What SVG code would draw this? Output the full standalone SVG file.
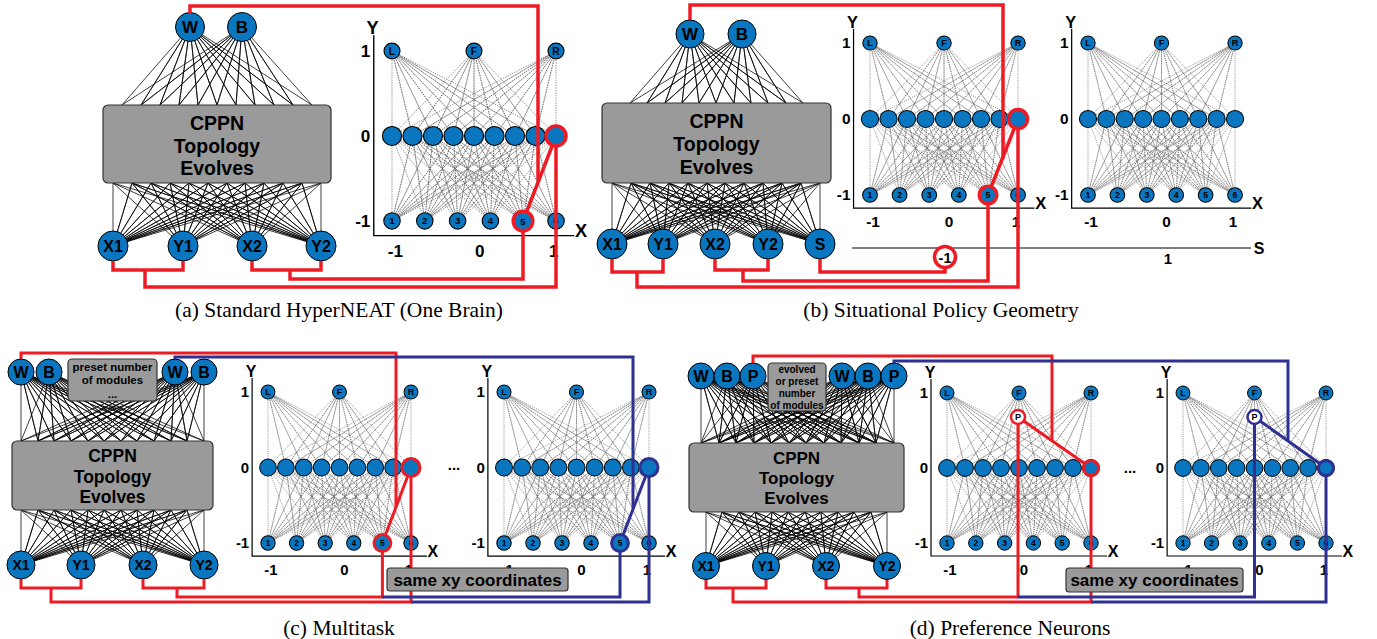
<svg xmlns="http://www.w3.org/2000/svg" xmlns:xlink="http://www.w3.org/1999/xlink" width="1377" height="639" viewBox="0 0 1377 639">
<style>
.n{fill:#0a76bf;stroke:#000;stroke-width:1}
.t{font-family:"Liberation Sans",Arial,sans-serif;font-weight:bold;text-anchor:middle;fill:#000}
.cap{font-family:"Liberation Serif","Times New Roman",serif;font-size:21.5px;text-anchor:middle;fill:#000}
.fan{stroke:#000;stroke-width:0.75;fill:none}
.dot{stroke:#6a6a6a;stroke-width:0.65;stroke-dasharray:1.2 1;fill:none}
.box{fill:#9a9a9a;stroke:#333;stroke-width:1.2}
.ax{stroke:#000;stroke-width:1.2;fill:none}
.red{stroke:#ed1c24;stroke-width:3.5;fill:none;stroke-linejoin:miter}
.blu{stroke:#2e3192;stroke-width:3.5;fill:none;stroke-linejoin:miter}
.rr{fill:#0a76bf;stroke:#ed1c24}
.br{fill:#0a76bf;stroke:#2e3192}
</style>
<defs>
<g id="grid">
<path class="dot" d="M0,75L0,0L18,75L0,0L36,75L0,0L54,75L0,0L72,75L0,0L90,75L0,0L108,75L0,0L126,75L0,0L144,75M0,75L72,0L18,75L72,0L36,75L72,0L54,75L72,0L72,75L72,0L90,75L72,0L108,75L72,0L126,75L72,0L144,75M0,75L144,0L18,75L144,0L36,75L144,0L54,75L144,0L72,75L144,0L90,75L144,0L108,75L144,0L126,75L144,0L144,75"/>
<path class="dot" d="M0,75L0,150L18,75L0,150L36,75L0,150L54,75L0,150L72,75L0,150L90,75L0,150L108,75L0,150L126,75L0,150L144,75M0,75L28.8,150L18,75L28.8,150L36,75L28.8,150L54,75L28.8,150L72,75L28.8,150L90,75L28.8,150L108,75L28.8,150L126,75L28.8,150L144,75M0,75L57.6,150L18,75L57.6,150L36,75L57.6,150L54,75L57.6,150L72,75L57.6,150L90,75L57.6,150L108,75L57.6,150L126,75L57.6,150L144,75M0,75L86.4,150L18,75L86.4,150L36,75L86.4,150L54,75L86.4,150L72,75L86.4,150L90,75L86.4,150L108,75L86.4,150L126,75L86.4,150L144,75M0,75L115.2,150L18,75L115.2,150L36,75L115.2,150L54,75L115.2,150L72,75L115.2,150L90,75L115.2,150L108,75L115.2,150L126,75L115.2,150L144,75M0,75L144,150L18,75L144,150L36,75L144,150L54,75L144,150L72,75L144,150L90,75L144,150L108,75L144,150L126,75L144,150L144,75"/>
<path class="ax" d="M-16,-14V163H160"/>
<text class="t" x="-17" y="-15" font-size="16">Y</text>
<text class="t" x="166" y="164" font-size="16">X</text>
<text class="t" x="-19" y="5" font-size="15" style="text-anchor:end">1</text>
<text class="t" x="-19" y="80" font-size="15" style="text-anchor:end">0</text>
<text class="t" x="-19" y="155" font-size="15" style="text-anchor:end">-1</text>
<text class="t" x="3" y="182" font-size="15">-1</text>
<text class="t" x="77" y="182" font-size="15">0</text>
<text class="t" x="142" y="182" font-size="15">1</text>
<g font-size="9">
<circle class="n" cx="0" cy="0" r="7"/><text class="t" x="0" y="3.2">L</text>
<circle class="n" cx="72" cy="0" r="7"/><text class="t" x="72" y="3.2">F</text>
<circle class="n" cx="144" cy="0" r="7"/><text class="t" x="144" y="3.2">R</text>
</g>
<circle class="n" cx="0" cy="75" r="8.4"/><circle class="n" cx="18" cy="75" r="8.4"/><circle class="n" cx="36" cy="75" r="8.4"/><circle class="n" cx="54" cy="75" r="8.4"/><circle class="n" cx="72" cy="75" r="8.4"/><circle class="n" cx="90" cy="75" r="8.4"/><circle class="n" cx="108" cy="75" r="8.4"/><circle class="n" cx="126" cy="75" r="8.4"/><circle class="n" cx="144" cy="75" r="8.4"/>
<g font-size="8.5">
<circle class="n" cx="0" cy="150" r="7.2"/><text class="t" x="0" y="153">1</text>
<circle class="n" cx="28.8" cy="150" r="7.2"/><text class="t" x="28.8" y="153">2</text>
<circle class="n" cx="57.6" cy="150" r="7.2"/><text class="t" x="57.6" y="153">3</text>
<circle class="n" cx="86.4" cy="150" r="7.2"/><text class="t" x="86.4" y="153">4</text>
<circle class="n" cx="115.2" cy="150" r="7.2"/><text class="t" x="115.2" y="153">5</text>
<circle class="n" cx="144" cy="150" r="7.2"/><text class="t" x="144" y="153">6</text>
</g>
</g>
</defs>
<rect width="1377" height="639" fill="#fff"/>

<!-- ================= Panel A ================= -->
<g id="a-fans">
<path class="fan" d="M122,105L190,27L141,105L190,27L160,105L190,27L179,105L190,27L198,105L190,27L217,105L190,27L236,105L190,27L255,105L190,27L274,105L190,27L293,105L190,27L312,105"/>
<path class="fan" d="M122,105L242,27L141,105L242,27L160,105L242,27L179,105L242,27L198,105L242,27L217,105L242,27L236,105L242,27L255,105L242,27L274,105L242,27L293,105L242,27L312,105"/>
<path class="fan" d="M113,183L113,246L132,183L113,246L151,183L113,246L170,183L113,246L189,183L113,246L208,183L113,246L227,183L113,246L245,183L113,246L264,183L113,246L283,183L113,246L302,183L113,246L321,183"/>
<path class="fan" d="M113,183L183,246L132,183L183,246L151,183L183,246L170,183L183,246L189,183L183,246L208,183L183,246L227,183L183,246L245,183L183,246L264,183L183,246L283,183L183,246L302,183L183,246L321,183"/>
<path class="fan" d="M113,183L252,246L132,183L252,246L151,183L252,246L170,183L252,246L189,183L252,246L208,183L252,246L227,183L252,246L245,183L252,246L264,183L252,246L283,183L252,246L302,183L252,246L321,183"/>
<path class="fan" d="M113,183L321,246L132,183L321,246L151,183L321,246L170,183L321,246L189,183L321,246L208,183L321,246L227,183L321,246L245,183L321,246L264,183L321,246L283,183L321,246L302,183L321,246L321,183"/>
</g>
<g id="a-cppn"><rect class="box" x="103" y="105" width="228" height="78" rx="5"/>
<text class="t" x="217" y="130" font-size="19.5">CPPN</text><text class="t" x="217" y="152.5" font-size="19.5">Topology</text><text class="t" x="217" y="175" font-size="19.5">Evolves</text></g>
<g id="a-W"><circle class="n" cx="190" cy="27" r="14.5"/><text class="t" x="190" y="33" font-size="17">W</text></g>
<g id="a-B"><circle class="n" cx="242" cy="27" r="14.5"/><text class="t" x="242" y="33" font-size="17">B</text></g>
<g id="a-X1"><circle class="n" cx="113" cy="246" r="15"/><text class="t" x="113" y="252" font-size="16">X1</text></g>
<g id="a-Y1"><circle class="n" cx="183" cy="246" r="15"/><text class="t" x="183" y="252" font-size="16">Y1</text></g>
<g id="a-X2"><circle class="n" cx="252" cy="246" r="15"/><text class="t" x="252" y="252" font-size="16">X2</text></g>
<g id="a-Y2"><circle class="n" cx="321" cy="246" r="15"/><text class="t" x="321" y="252" font-size="16">Y2</text></g>
<g id="a-grid"><use xlink:href="#grid" href="#grid" transform="translate(392,51) scale(1.139,1.133)"/></g>

<!-- ================= Panel B ================= -->
<g id="b-fans">
<path class="fan" d="M630,103L690,34L647,103L690,34L665,103L690,34L682,103L690,34L699,103L690,34L716,103L690,34L734,103L690,34L751,103L690,34L768,103L690,34L786,103L690,34L803,103"/>
<path class="fan" d="M630,103L742,34L647,103L742,34L665,103L742,34L682,103L742,34L699,103L742,34L716,103L742,34L734,103L742,34L751,103L742,34L768,103L742,34L786,103L742,34L803,103"/>
<path class="fan" d="M612,183L612,244L631,183L612,244L650,183L612,244L669,183L612,244L688,183L612,244L707,183L612,244L725,183L612,244L744,183L612,244L763,183L612,244L782,183L612,244L801,183L612,244L820,183"/>
<path class="fan" d="M612,183L663,244L631,183L663,244L650,183L663,244L669,183L663,244L688,183L663,244L707,183L663,244L725,183L663,244L744,183L663,244L763,183L663,244L782,183L663,244L801,183L663,244L820,183"/>
<path class="fan" d="M612,183L715,244L631,183L715,244L650,183L715,244L669,183L715,244L688,183L715,244L707,183L715,244L725,183L715,244L744,183L715,244L763,183L715,244L782,183L715,244L801,183L715,244L820,183"/>
<path class="fan" d="M612,183L768,244L631,183L768,244L650,183L768,244L669,183L768,244L688,183L768,244L707,183L768,244L725,183L768,244L744,183L768,244L763,183L768,244L782,183L768,244L801,183L768,244L820,183"/>
<path class="fan" d="M612,183L820,244L631,183L820,244L650,183L820,244L669,183L820,244L688,183L820,244L707,183L820,244L725,183L820,244L744,183L820,244L763,183L820,244L782,183L820,244L801,183L820,244L820,183"/>
</g>
<g id="b-cppn"><rect class="box" x="602" y="103" width="229" height="80" rx="5"/>
<text class="t" x="716.5" y="128" font-size="19.5">CPPN</text><text class="t" x="716.5" y="151" font-size="19.5">Topology</text><text class="t" x="716.5" y="174" font-size="19.5">Evolves</text></g>
<g id="b-W"><circle class="n" cx="690" cy="34" r="14"/><text class="t" x="690" y="40" font-size="17">W</text></g>
<g id="b-B"><circle class="n" cx="742" cy="34" r="14"/><text class="t" x="742" y="40" font-size="17">B</text></g>
<g id="b-X1"><circle class="n" cx="612" cy="244" r="15"/><text class="t" x="612" y="250" font-size="16">X1</text></g>
<g id="b-Y1"><circle class="n" cx="663" cy="244" r="15"/><text class="t" x="663" y="250" font-size="16">Y1</text></g>
<g id="b-X2"><circle class="n" cx="715" cy="244" r="15"/><text class="t" x="715" y="250" font-size="16">X2</text></g>
<g id="b-Y2"><circle class="n" cx="768" cy="244" r="15"/><text class="t" x="768" y="250" font-size="16">Y2</text></g>
<g id="b-S"><circle class="n" cx="820" cy="244" r="15"/><text class="t" x="820" y="250" font-size="16">S</text></g>
<g id="b-grid1"><use xlink:href="#grid" href="#grid" transform="translate(870,43) scale(1.028,1.013)"/></g>
<g id="b-grid2"><use xlink:href="#grid" href="#grid" transform="translate(1088,43) scale(1.021,1.013)"/></g>
<g id="b-saxis"><path class="ax" d="M852,248H1251"/><text class="t" x="1259" y="254" font-size="16">S</text><text class="t" x="1168" y="264" font-size="15">1</text></g>

<!-- ================= Panel C ================= -->
<g id="c-fans">
<path class="fan" d="M21,441L21,372L38,441L21,372L54,441L21,372L71,441L21,372L88,441L21,372L104,441L21,372L121,441L21,372L137,441L21,372L154,441L21,372L171,441L21,372L187,441L21,372L204,441"/>
<path class="fan" d="M21,441L49,372L38,441L49,372L54,441L49,372L71,441L49,372L88,441L49,372L104,441L49,372L121,441L49,372L137,441L49,372L154,441L49,372L171,441L49,372L187,441L49,372L204,441"/>
<path class="fan" d="M21,441L175,372L38,441L175,372L54,441L175,372L71,441L175,372L88,441L175,372L104,441L175,372L121,441L175,372L137,441L175,372L154,441L175,372L171,441L175,372L187,441L175,372L204,441"/>
<path class="fan" d="M21,441L204,372L38,441L204,372L54,441L204,372L71,441L204,372L88,441L204,372L104,441L204,372L121,441L204,372L137,441L204,372L154,441L204,372L171,441L204,372L187,441L204,372L204,441"/>
<path class="fan" d="M21,510L21,565L38,510L21,565L54,510L21,565L71,510L21,565L88,510L21,565L104,510L21,565L121,510L21,565L137,510L21,565L154,510L21,565L171,510L21,565L187,510L21,565L204,510"/>
<path class="fan" d="M21,510L81,565L38,510L81,565L54,510L81,565L71,510L81,565L88,510L81,565L104,510L81,565L121,510L81,565L137,510L81,565L154,510L81,565L171,510L81,565L187,510L81,565L204,510"/>
<path class="fan" d="M21,510L143,565L38,510L143,565L54,510L143,565L71,510L143,565L88,510L143,565L104,510L143,565L121,510L143,565L137,510L143,565L154,510L143,565L171,510L143,565L187,510L143,565L204,510"/>
<path class="fan" d="M21,510L204,565L38,510L204,565L54,510L204,565L71,510L204,565L88,510L204,565L104,510L204,565L121,510L204,565L137,510L204,565L154,510L204,565L171,510L204,565L187,510L204,565L204,510"/>
</g>
<g id="c-cppn"><rect class="box" x="12" y="441" width="201" height="69" rx="5"/>
<text class="t" x="112.5" y="462" font-size="17.5">CPPN</text><text class="t" x="112.5" y="482.5" font-size="17.5">Topology</text><text class="t" x="112.5" y="503" font-size="17.5">Evolves</text></g>
<g id="c-modules"><rect class="box" x="68" y="359" width="89" height="42" rx="4"/>
<text class="t" x="112.5" y="371" font-size="11.5">preset number</text><text class="t" x="112.5" y="384" font-size="11.5">of modules</text><text class="t" x="112.5" y="397.5" font-size="11.5">...</text></g>
<g id="c-W1"><circle class="n" cx="21" cy="372" r="13"/><text class="t" x="21" y="378" font-size="16">W</text></g>
<g id="c-B1"><circle class="n" cx="49" cy="372" r="13"/><text class="t" x="49" y="378" font-size="16">B</text></g>
<g id="c-W2"><circle class="n" cx="175" cy="372" r="13"/><text class="t" x="175" y="378" font-size="16">W</text></g>
<g id="c-B2"><circle class="n" cx="204" cy="372" r="13"/><text class="t" x="204" y="378" font-size="16">B</text></g>
<g id="c-X1"><circle class="n" cx="21" cy="565" r="14"/><text class="t" x="21" y="570" font-size="14">X1</text></g>
<g id="c-Y1"><circle class="n" cx="81" cy="565" r="14"/><text class="t" x="81" y="570" font-size="14">Y1</text></g>
<g id="c-X2"><circle class="n" cx="143" cy="565" r="14"/><text class="t" x="143" y="570" font-size="14">X2</text></g>
<g id="c-Y2"><circle class="n" cx="204" cy="565" r="14"/><text class="t" x="204" y="570" font-size="14">Y2</text></g>
<g id="c-grid1"><use xlink:href="#grid" href="#grid" transform="translate(268,392) scale(0.993,1.007)"/></g>
<g id="c-grid2"><use xlink:href="#grid" href="#grid" transform="translate(504,392) scale(1.007,1.007)"/></g>
<g id="c-ellipsis"><text class="t" x="454" y="470" font-size="15">...</text></g>

<!-- ================= Panel D ================= -->
<g id="d-fans">
<path class="fan" d="M701,443L701,376L719,443L701,376L736,443L701,376L754,443L701,376L771,443L701,376L789,443L701,376L806,443L701,376L824,443L701,376L841,443L701,376L859,443L701,376L876,443L701,376L894,443"/>
<path class="fan" d="M701,443L727,376L719,443L727,376L736,443L727,376L754,443L727,376L771,443L727,376L789,443L727,376L806,443L727,376L824,443L727,376L841,443L727,376L859,443L727,376L876,443L727,376L894,443"/>
<path class="fan" d="M701,443L753,376L719,443L753,376L736,443L753,376L754,443L753,376L771,443L753,376L789,443L753,376L806,443L753,376L824,443L753,376L841,443L753,376L859,443L753,376L876,443L753,376L894,443"/>
<path class="fan" d="M701,443L842,376L719,443L842,376L736,443L842,376L754,443L842,376L771,443L842,376L789,443L842,376L806,443L842,376L824,443L842,376L841,443L842,376L859,443L842,376L876,443L842,376L894,443"/>
<path class="fan" d="M701,443L868,376L719,443L868,376L736,443L868,376L754,443L868,376L771,443L868,376L789,443L868,376L806,443L868,376L824,443L868,376L841,443L868,376L859,443L868,376L876,443L868,376L894,443"/>
<path class="fan" d="M701,443L894,376L719,443L894,376L736,443L894,376L754,443L894,376L771,443L894,376L789,443L894,376L806,443L894,376L824,443L894,376L841,443L894,376L859,443L894,376L876,443L894,376L894,443"/>
<path class="fan" d="M706,512L706,566L722,512L706,566L739,512L706,566L755,512L706,566L772,512L706,566L788,512L706,566L805,512L706,566L821,512L706,566L838,512L706,566L854,512L706,566L871,512L706,566L887,512"/>
<path class="fan" d="M706,512L766,566L722,512L766,566L739,512L766,566L755,512L766,566L772,512L766,566L788,512L766,566L805,512L766,566L821,512L766,566L838,512L766,566L854,512L766,566L871,512L766,566L887,512"/>
<path class="fan" d="M706,512L826,566L722,512L826,566L739,512L826,566L755,512L826,566L772,512L826,566L788,512L826,566L805,512L826,566L821,512L826,566L838,512L826,566L854,512L826,566L871,512L826,566L887,512"/>
<path class="fan" d="M706,512L887,566L722,512L887,566L739,512L887,566L755,512L887,566L772,512L887,566L788,512L887,566L805,512L887,566L821,512L887,566L838,512L887,566L854,512L887,566L871,512L887,566L887,512"/>
</g>
<g id="d-cppn"><rect class="box" x="689" y="443" width="215" height="69" rx="5"/>
<text class="t" x="796.5" y="464" font-size="17">CPPN</text><text class="t" x="796.5" y="484" font-size="17">Topology</text><text class="t" x="796.5" y="504" font-size="17">Evolves</text></g>
<g id="d-modules"><rect class="box" x="768" y="363" width="58" height="48" rx="4"/>
<text class="t" x="797" y="373" font-size="10">evolved</text><text class="t" x="797" y="385" font-size="10">or preset</text><text class="t" x="797" y="397" font-size="10">number</text><text class="t" x="797" y="409" font-size="10">of modules</text></g>
<g id="d-W1"><circle class="n" cx="701" cy="376" r="13"/><text class="t" x="701" y="382" font-size="16">W</text></g>
<g id="d-B1"><circle class="n" cx="727" cy="376" r="13"/><text class="t" x="727" y="382" font-size="16">B</text></g>
<g id="d-P1"><circle class="n" cx="753" cy="376" r="13"/><text class="t" x="753" y="382" font-size="16">P</text></g>
<g id="d-W2"><circle class="n" cx="842" cy="376" r="13"/><text class="t" x="842" y="382" font-size="16">W</text></g>
<g id="d-B2"><circle class="n" cx="868" cy="376" r="13"/><text class="t" x="868" y="382" font-size="16">B</text></g>
<g id="d-P2"><circle class="n" cx="894" cy="376" r="13"/><text class="t" x="894" y="382" font-size="16">P</text></g>
<g id="d-X1"><circle class="n" cx="706" cy="566" r="13.5"/><text class="t" x="706" y="571" font-size="14">X1</text></g>
<g id="d-Y1"><circle class="n" cx="766" cy="566" r="13.5"/><text class="t" x="766" y="571" font-size="14">Y1</text></g>
<g id="d-X2"><circle class="n" cx="826" cy="566" r="13.5"/><text class="t" x="826" y="571" font-size="14">X2</text></g>
<g id="d-Y2"><circle class="n" cx="887" cy="566" r="13.5"/><text class="t" x="887" y="571" font-size="14">Y2</text></g>
<g id="d-grid1"><use xlink:href="#grid" href="#grid" transform="translate(947,393)"/></g>
<g id="d-grid2"><use xlink:href="#grid" href="#grid" transform="translate(1183,393) scale(0.993,1)"/></g>
<g id="d-ellipsis"><text class="t" x="1130" y="473" font-size="15">...</text></g>

<!-- ================= Connectors ================= -->
<g id="connectors">
<path class="red" d="M190,13V6H538V180"/>
<path class="red" d="M523,221L556,136"/>
<path class="red" d="M113,261V270H183V261M145,270V287H556V146"/>
<path class="red" d="M252,261V270H321V261M290,270V279H523V231"/>

<path class="red" d="M690,20V5H1003V159"/>
<path class="red" d="M988,195L1018,119"/>
<path class="red" d="M612,259V272H663V259M637,272V287H1018V128"/>
<path class="red" d="M715,259V270H768V259M743,270V281H988V204"/>
<path class="red" d="M820,259V272H945V268"/>

<path class="red" style="stroke-width:3" d="M21,359V353H396V507"/>
<path class="red" style="stroke-width:3" d="M382.4,543L411,467.5"/>
<path class="red" style="stroke-width:3" d="M21,579V588H81V579M51,588V602H411V477"/>
<path class="red" style="stroke-width:3" d="M143,579V588H204V579M177,588V597H382.4V551"/>
<path class="blu" style="stroke-width:3" d="M175,359V357H633V508"/>
<path class="blu" style="stroke-width:3" d="M620,543L649,467.5"/>
<path class="blu" style="stroke-width:3" d="M411,602H649V477"/>
<path class="blu" style="stroke-width:3" d="M382.4,597H620V551"/>

<path class="red" style="stroke-width:3" d="M753,363V356H1052V441"/>
<path class="red" style="stroke-width:3" d="M1018,417L1091,468"/>
<path class="red" style="stroke-width:3" d="M706,580V588H766V580M733,588V602H1091V476"/>
<path class="red" style="stroke-width:3" d="M826,580V588H887V580M859,588V597H1018V425"/>
<path class="blu" style="stroke-width:3" d="M894,363V361H1288V441"/>
<path class="blu" style="stroke-width:3" d="M1254.5,417L1326,468"/>
<path class="blu" style="stroke-width:3" d="M1091,602H1326V476"/>
<path class="blu" style="stroke-width:3" d="M1018,597H1254.5V425"/>
</g>

<!-- highlighted neurons -->
<g id="a-h9-sel"><circle class="rr" cx="556" cy="136" r="10" stroke-width="3.5"/></g>
<g id="a-i5-sel"><circle class="rr" cx="523" cy="221" r="9.8" stroke-width="3.5"/><text class="t" x="523" y="224.5" font-size="9.5">5</text></g>
<g id="b-h9-sel"><circle class="rr" cx="1018" cy="119" r="9.5" stroke-width="3.5"/></g>
<g id="b-i5-sel"><circle class="rr" cx="988" cy="195" r="8.8" stroke-width="3.5"/><text class="t" x="988" y="198" font-size="9">5</text></g>
<g id="b-sneg1"><circle cx="945" cy="257" r="10.5" fill="#fff" stroke="#ed1c24" stroke-width="3.5"/><text class="t" x="945" y="262.5" font-size="14.5">-1</text></g>
<g id="c-h9-sel"><circle class="rr" cx="411" cy="467.5" r="9" stroke-width="3"/></g>
<g id="c-i5-sel"><circle class="rr" cx="382.4" cy="543" r="8.4" stroke-width="3"/><text class="t" x="382.4" y="546" font-size="8.5">5</text></g>
<g id="c2-h9-sel"><circle class="br" cx="649" cy="467.5" r="9" stroke-width="3"/></g>
<g id="c2-i5-sel"><circle class="br" cx="620" cy="543" r="8.4" stroke-width="3"/><text class="t" x="620" y="546" font-size="8.5">5</text></g>
<g id="d-h9-sel"><circle class="rr" cx="1091" cy="468" r="7.6" stroke-width="3"/></g>
<g id="d-P-red"><circle cx="1018" cy="417" r="7" fill="#fff" stroke="#ed1c24" stroke-width="2.5"/><text class="t" x="1018" y="420.3" font-size="9">P</text></g>
<g id="d2-h9-sel"><circle class="br" cx="1326" cy="468" r="7.6" stroke-width="3"/></g>
<g id="d2-P-blue"><circle cx="1254.5" cy="417" r="7" fill="#fff" stroke="#2e3192" stroke-width="2.5"/><text class="t" x="1254.5" y="420.3" font-size="9">P</text></g>

<g id="c-samexy"><rect class="box" x="387" y="568" width="181" height="23" rx="3"/><text class="t" x="477.5" y="585.5" font-size="17">same xy coordinates</text></g>
<g id="d-samexy"><rect class="box" x="1066" y="568" width="177" height="24" rx="3"/><text class="t" x="1154.5" y="586" font-size="17">same xy coordinates</text></g>

<g id="captions">
<text class="cap" x="339" y="317">(a) Standard HyperNEAT (One Brain)</text>
<text class="cap" x="941" y="317">(b) Situational Policy Geometry</text>
<text class="cap" x="339" y="635">(c) Multitask</text>
<text class="cap" x="1010" y="635">(d) Preference Neurons</text>
</g>
</svg>
